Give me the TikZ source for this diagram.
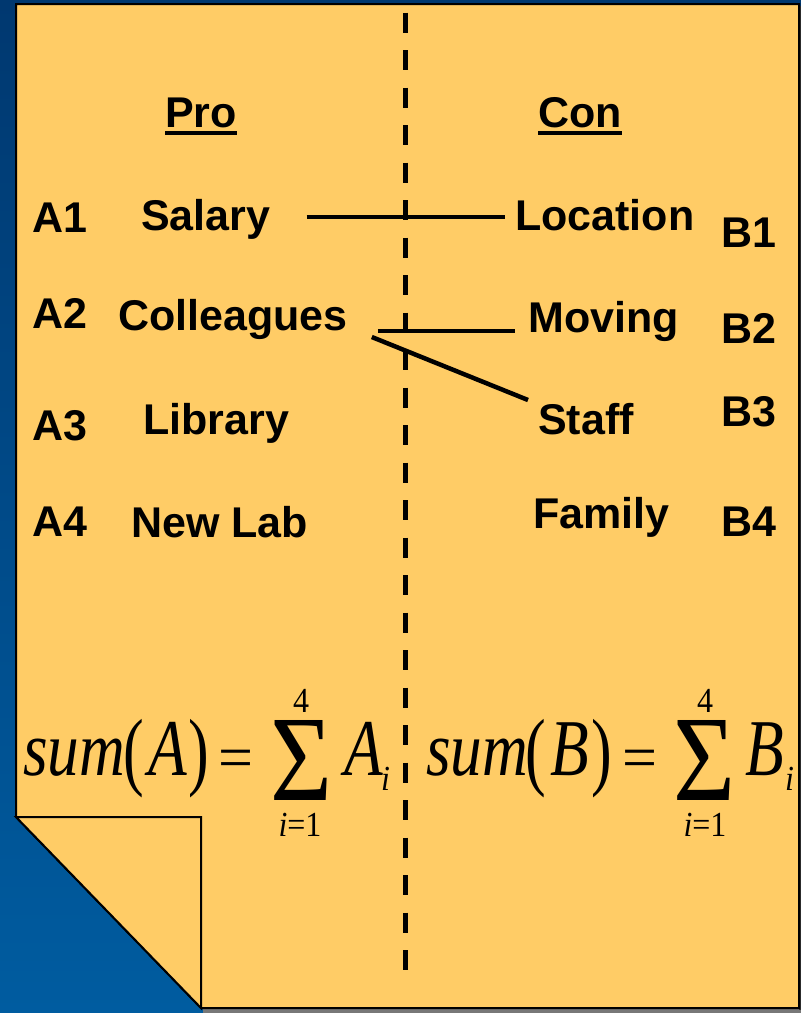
\documentclass[tikz,border=0pt]{standalone}
\usepackage{fontspec}
\setmainfont{Liberation Sans}
\newfontfamily\tms{Liberation Serif}
\definecolor{paper}{RGB}{255,204,102}
\definecolor{bgtop}{RGB}{0,56,112}
\definecolor{bgbot}{RGB}{0,92,160}
\definecolor{shadowgray}{RGB}{120,120,120}
\begin{document}
\begin{tikzpicture}[x=1pt,y=-1pt,
  lbl/.style={inner sep=0pt,anchor=base west,font=\bfseries\fontsize{43}{50}\selectfont},
  fm/.style={inner sep=0pt,anchor=base west,font=\tms\fontsize{62}{70}\selectfont},
  fms/.style={inner sep=0pt,anchor=base,font=\tms\fontsize{32}{36}\selectfont},
  conn/.style={line width=4.5pt},
  ul/.style={line width=4pt},
  divider/.style={line width=5pt,dash pattern=on 20pt off 17.5pt},
  edge/.style={line width=2pt,draw=black}]
\useasboundingbox (0,0) rectangle (801,1013);
% background
\shade[top color=bgtop,bottom color=bgbot] (0,0) rectangle (801,1013);
% shadow
\fill[shadowgray] (203,1008) -- (801,1008) -- (801,1013) -- (203,1013) -- cycle;
\fill[black!80] (799,6) rectangle (801,1010);
% page
\filldraw[fill=paper,edge] (16,4) -- (799,4) -- (799,1008) -- (201,1008) -- (16,817) -- cycle;
% folded flap
\filldraw[fill=paper,edge] (16,817) -- (201,817) -- (201,1008) -- cycle;
% divider
\coordinate (dtop) at (405,12.5);
\coordinate (dbot) at (405,970);
\draw[divider] (dtop) -- (dbot);
% headings
\node[lbl] (pro) at (165,127) {Pro};
\node[lbl] (con) at (538,127) {Con};
\draw[ul] ([yshift=-6pt]pro.base west) -- ([yshift=-6pt]pro.base east);
\draw[ul] ([yshift=-6pt]con.base west) -- ([yshift=-6pt]con.base east);
% left column
\node[lbl] (a1) at (32,232) {A1};
\node[lbl] (salary) at (141,230) {Salary};
\node[lbl] (a2) at (32,328) {A2};
\node[lbl] (colleagues) at (118,330) {Colleagues};
\node[lbl] (a3) at (32,440) {A3};
\node[lbl] (library) at (143,434) {Library};
\node[lbl] (a4) at (32,536) {A4};
\node[lbl] (newlab) at (131,537) {New Lab};
% right column
\node[lbl] (location) at (515,230) {Location};
\node[lbl] (b1) at (721,247) {B1};
\node[lbl] (moving) at (528,332) {Moving};
\node[lbl] (b2) at (721,343) {B2};
\node[lbl] (staff) at (538,434) {Staff};
\node[lbl] (b3) at (721,426) {B3};
\node[lbl] (family) at (533,528) {Family};
\node[lbl] (b4) at (721,536) {B4};
% connectors
\draw[conn] ([shift={(36pt,13pt)}]salary.base east) -- ([shift={(-10pt,13pt)}]location.base west);
\draw[conn] ([shift={(30pt,-1pt)}]colleagues.base east) -- ([shift={(-13pt,1pt)}]moving.base west);
\draw[conn] ([shift={(24pt,-7pt)}]colleagues.base east) -- ([shift={(-10pt,34pt)}]staff.base west);
% formula left
\node[fm] (sumA) at (23,775) {\scalebox{1.02}[1.25]{\itshape sum}};
\node[fm] (lpA) at (123,779) {\scalebox{1}[1.4]{(}};
\node[fm] (varA) at (148,775) {\scalebox{1.02}[1.3]{\itshape A}};
\node[fm] (rpA) at (188,779) {\scalebox{1}[1.4]{)}};
\node[fm] (eqA) at (218,778) {=};
\node[fm] (sigA) at (270,800) {\resizebox{62pt}{80pt}{Σ}};
\node[fms] (upA) at (301,712) {\scalebox{1}[1.1]{4}};
\node[fms] (loA) at (300,836) {\scalebox{1}[1.1]{\itshape i\upshape =1}};
\node[fm] (AiA) at (344,775) {\scalebox{1.02}[1.3]{\itshape A}};
\node[fms,anchor=base west] (subA) at (381,790) {\scalebox{1}[1.1]{\itshape i}};
% formula right
\node[fm] (sumB) at (426,775) {\scalebox{1.02}[1.25]{\itshape sum}};
\node[fm] (lpB) at (525,779) {\scalebox{1}[1.4]{(}};
\node[fm] (varB) at (550,775) {\scalebox{1.02}[1.3]{\itshape B}};
\node[fm] (rpB) at (591,779) {\scalebox{1}[1.4]{)}};
\node[fm] (eqB) at (622,778) {=};
\node[fm] (sigB) at (673,800) {\resizebox{62pt}{80pt}{Σ}};
\node[fms] (upB) at (705,712) {\scalebox{1}[1.1]{4}};
\node[fms] (loB) at (705,836) {\scalebox{1}[1.1]{\itshape i\upshape =1}};
\node[fm] (BiB) at (745,775) {\scalebox{1.02}[1.3]{\itshape B}};
\node[fms,anchor=base west] (subB) at (785,790) {\scalebox{1}[1.1]{\itshape i}};
\end{tikzpicture}
\end{document}
